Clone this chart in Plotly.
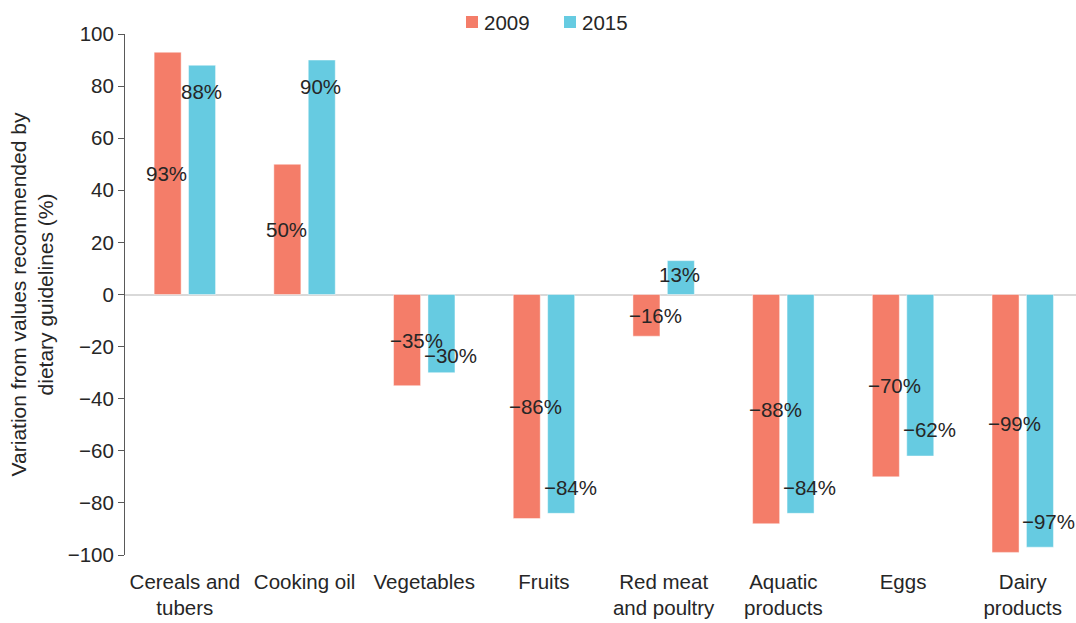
import plotly.graph_objects as go

categories = ["Cereals and<br>tubers", "Cooking oil", "Vegetables", "Fruits",
              "Red meat<br>and poultry", "Aquatic<br>products", "Eggs", "Dairy<br>products"]
values_2009 = [93, 50, -35, -86, -16, -88, -70, -99]
values_2015 = [88, 90, -30, -84, 13, -84, -62, -97]
y_ticks = [-100, -80, -60, -40, -20, 0, 20, 40, 60, 80, 100]
series_names = ["2009", "2015"]

C2009 = "#F47D69"
C2015 = "#66CBE1"
TXT = "#262626"
FONT = "Liberation Sans, Arial, sans-serif"

W, H = 1076, 623
ml, mt, mr = 125, 34, 0
mb = H - 555
PW, PH = W - ml - mr, H - mt - mb
spacing = 119.7
span = PW / spacing
BARGAP, GROUPGAP = 0.425, 0.215
slot = spacing * (1 - BARGAP) / 2


def px2x(px):
    return (px - ml) / PW


def py2y(py):
    return (H - mb - py) / PH


fig = go.Figure()
for name, vals, col in [(series_names[0], values_2009, C2009), (series_names[1], values_2015, C2015)]:
    fig.add_trace(go.Bar(name=name, x=categories, y=vals, showlegend=False,
                         marker=dict(color=col, line=dict(color="rgba(255,255,255,0.45)", width=1))))


def fmt(v):
    return ("\u2212" if v < 0 else "") + f"{abs(v)}%"


lab_font = dict(size=20.5, color=TXT, family=FONT)
annotations = []
for cat, v09, v15 in zip(categories, values_2009, values_2015):
    y09 = v09 / 2
    s = 1 if v15 > 0 else -1
    y15 = v15 - s * min(10, 0.4 * abs(v15))
    if v09 * v15 > 0 and abs(y15 - y09) < 6:
        y15 = y09 + s * 6
    annotations.append(dict(x=cat, y=y09, xref="x", yref="y", text=fmt(v09), showarrow=False,
                            xshift=-slot / 2 + (9 if v09 < 0 else -1), font=lab_font))
    annotations.append(dict(x=cat, y=y15, xref="x", yref="y", text=fmt(v15), showarrow=False,
                            xshift=slot / 2 + (9 if v15 < 0 else -1), font=lab_font))

# custom legend (keys + labels)
shapes = []
for name, col, sq_left in [(series_names[0], C2009, 466), (series_names[1], C2015, 564)]:
    shapes.append(dict(type="rect", xref="paper", yref="paper",
                       x0=px2x(sq_left), x1=px2x(sq_left + 12), y0=py2y(28), y1=py2y(16),
                       fillcolor=col, line=dict(width=0)))
    annotations.append(dict(x=px2x(sq_left + 16), y=py2y(22), xref="paper", yref="paper",
                            xanchor="left", yanchor="middle", text=name, showarrow=False,
                            font=lab_font))

fig.update_layout(
    width=W, height=H,
    margin=dict(l=ml, r=mr, t=mt, b=mb, autoexpand=False),
    paper_bgcolor="white", plot_bgcolor="white",
    barmode="group", bargap=BARGAP, bargroupgap=GROUPGAP,
    font=dict(family=FONT, size=20.5, color=TXT),
    annotations=annotations,
    shapes=shapes,
    showlegend=False,
)
fig.update_xaxes(range=[-0.5, span - 0.5], showline=False, showgrid=False, zeroline=False,
                 automargin=False,
                 ticks="outside", ticklen=8, tickcolor="rgba(0,0,0,0)",
                 tickfont=lab_font, tickangle=0)
fig.update_yaxes(range=[-100, 100], tickvals=y_ticks, showgrid=False, automargin=False,
                 zeroline=True, zerolinecolor="#D9D9D9", zerolinewidth=2,
                 showline=True, linecolor="#595959", linewidth=1,
                 ticks="outside", ticklen=6, tickcolor="#595959",
                 tickfont=lab_font,
                 title=dict(text="Variation from values recommended by<br>dietary guidelines (%)",
                            font=dict(size=21, color=TXT, family=FONT), standoff=8))

fig.write_html("out.html", config={"displayModeBar": False},
               post_script="document.body.style.margin='0';document.body.style.overflow='hidden';")
